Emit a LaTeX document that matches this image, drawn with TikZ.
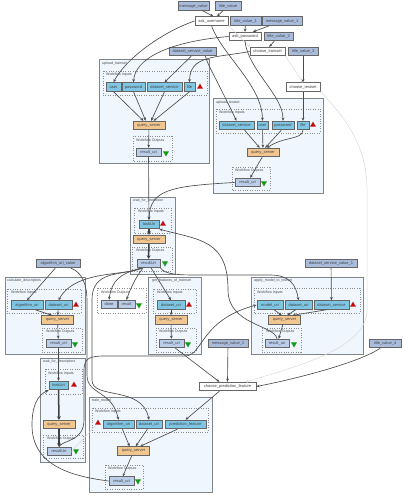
\documentclass[tikz,border=0pt]{standalone}
\usepackage{fontspec}
\setmainfont{Liberation Sans}
\usetikzlibrary{arrows.meta,shapes.geometric}
\definecolor{clusterbg}{HTML}{EFF6FE}
\definecolor{clusteredge}{HTML}{7F8589}
\definecolor{portcol}{HTML}{7FC6E4}
\definecolor{valuecol}{HTML}{A9BCDC}
\definecolor{outcol}{HTML}{BBCEE9}
\definecolor{servercol}{HTML}{F2C68F}
\tikzset{
    box/.style={draw=black!60, line width=0.9pt, inner sep=0pt, minimum height=8.5pt, font=\fontsize{4}{5}\selectfont, text=black!75},
    valuebox/.style={box, fill=valuecol},
    askbox/.style={box, fill=white},
    portbox/.style={box, fill=portcol},
    outbox/.style={box, fill=outcol},
    serverbox/.style={box, fill=servercol, minimum width=32pt},
    cluster/.style={draw=clusteredge, line width=0.9pt, fill=clusterbg},
    ports/.style={draw=black!45, line width=0.8pt, dash pattern=on 0.8pt off 1.6pt},
    title/.style={inner sep=0pt, anchor=west, text=black!70, font=\fontsize{3.6}{5}\selectfont},
    warn/.style={regular polygon, regular polygon sides=3, fill=red!85!black, draw=black!50, line width=0.2pt, inner sep=0pt, minimum size=6.5pt},
    okay/.style={regular polygon, regular polygon sides=3, shape border rotate=180, fill=green!65!black, draw=black!50, line width=0.2pt, inner sep=0pt, minimum size=6.5pt},
    link/.style={draw=black!70, line width=0.65pt, -{Stealth[length=3.2pt,width=2.8pt]}},
    fatlink/.style={draw=black!75, line width=1.5pt, -{Stealth[length=3.5pt,width=4pt]}},
    ctrl/.style={draw=black!15, line width=0.5pt},
    ctrlc/.style={ctrl, -{Circle[open,length=2.5pt,fill=white]}}
}
\begin{document}
\begin{tikzpicture}[x=1pt, y=-1pt]
    \useasboundingbox (0,0) rectangle (402,500);

    % draw clusters
    \draw[cluster] (99,59) rectangle (209,163);
    \draw[cluster] (213,98) rectangle (323,193);
    \draw[cluster] (130,197) rectangle (175,274);
    \draw[cluster] (5,277) rectangle (85,354);
    \draw[cluster] (148,277) rectangle (201,354);
    \draw[cluster] (251,277) rectangle (363,354);
    \draw[cluster] (40,358) rectangle (85,462);
    \draw[cluster] (89,397) rectangle (212,492);
    \node[title] (t_tr) at (102,63.5) {upload\_trainset};
    \node[title] (t_te) at (216,102.5) {upload\_testset};
    \node[title] (t_wp) at (133,201) {wait\_for\_prediction};
    \node[title] (t_cd) at (7,281) {calculate\_descriptors};
    \node[title] (t_gf) at (152,281) {get\_features\_of\_trainset};
    \node[title] (t_ap) at (254,281) {apply\_model\_to\_testset};
    \node[title] (t_wd) at (43,362) {wait\_for\_descriptors};
    \node[title] (t_tm) at (92,401) {train\_model};

    % draw dotted port boxes
    \draw[ports] (103,71) rectangle (207,95);
    \draw[ports] (133,136) rectangle (172,161);
    \draw[ports] (216,109) rectangle (320,133);
    \draw[ports] (232,167) rectangle (270,190);
    \draw[ports] (134,208) rectangle (171,233);
    \draw[ports] (132,247) rectangle (172,271);
    \draw[ports] (7,289) rectangle (81,313);
    \draw[ports] (42,328) rectangle (82,352);
    \draw[ports] (97,288) rectangle (146,313);
    \draw[ports] (153,289) rectangle (196,313);
    \draw[ports] (156,328) rectangle (196,352);
    \draw[ports] (254,288) rectangle (360,313);
    \draw[ports] (262,328) rectangle (301,352);
    \draw[ports] (45,369) rectangle (82,394);
    \draw[ports] (43,435) rectangle (83,458);
    \draw[ports] (92,408) rectangle (208,432);
    \draw[ports] (105,465) rectangle (143,489);
    \node[title] (l1) at (106,75) {Workflow Inputs};
    \node[title] (l2) at (136,140.5) {Workflow Outputs};
    \node[title] (l3) at (219,113) {Workflow Inputs};
    \node[title] (l4) at (235,171) {Workflow Outputs};
    \node[title] (l5) at (138,212) {Workflow Inputs};
    \node[title] (l6) at (136,251) {Workflow Outputs};
    \node[title] (l7) at (11,293) {Workflow Inputs};
    \node[title] (l8) at (46,332) {Workflow Outputs};
    \node[title] (l9) at (101,293) {Workflow Outputs};
    \node[title] (l10) at (157,293) {Workflow Inputs};
    \node[title] (l11) at (159,332) {Workflow Outputs};
    \node[title] (l12) at (257,293) {Workflow Inputs};
    \node[title] (l13) at (266,332) {Workflow Outputs};
    \node[title] (l14) at (48,374) {Workflow Inputs};
    \node[title] (l15) at (47,439) {Workflow Outputs};
    \node[title] (l16) at (95,412) {Workflow Inputs};
    \node[title] (l17) at (108,469) {Workflow Outputs};

    % draw values and prompts
    \node[valuebox, minimum width=31pt] (msgv) at (193.5,6) {message\_value};
    \node[valuebox, minimum width=26pt] (titv) at (228,6) {title\_value};
    \node[askbox, minimum width=33pt] (asku) at (211.5,21) {ask\_username};
    \node[valuebox, minimum width=31pt] (titv1) at (245.5,21) {title\_value\_1};
    \node[valuebox, minimum width=40pt] (msgv1) at (282,21) {message\_value\_1};
    \node[askbox, minimum width=32pt] (askp) at (245,36.5) {ask\_password};
    \node[valuebox, minimum width=29pt] (titv2) at (278.5,36.5) {title\_value\_2};
    \node[valuebox, minimum width=47pt] (dsv) at (192.5,51.5) {dataset\_service\_value};
    \node[askbox, minimum width=35pt] (chtr) at (267.5,51.5) {choose\_trainset};
    \node[valuebox, minimum width=30pt] (titv3) at (303,51.5) {title\_value\_3};
    \node[askbox, minimum width=34pt] (chte) at (303,87) {choose\_testset};
    \node[valuebox, minimum width=44pt] (algv) at (58,263.5) {algorithm\_uri\_value};
    \node[valuebox, minimum width=52pt] (dsv1) at (331,263.5) {dataset\_service\_value\_1};
    \node[valuebox, minimum width=40pt] (msgv2) at (228,343.5) {message\_value\_2};
    \node[valuebox, minimum width=32pt] (titv4) at (385,343.5) {title\_value\_4};
    \node[askbox, minimum width=57pt] (chpf) at (227.5,386.5) {choose\_prediction\_feature};

    % upload_trainset
    \node[portbox, minimum width=15pt] (tr_usr) at (113.5,87) {user};
    \node[portbox, minimum width=23pt] (tr_pwd) at (133.5,87) {password};
    \node[portbox, minimum width=35pt] (tr_dss) at (164.5,87) {dataset\_service};
    \node[portbox, minimum width=11pt] (tr_file) at (189.5,87) {file};
    \node[warn] (tr_w) at (200,87) {};
    \node[serverbox] (tr_qs) at (149,125.5) {query\_server};
    \node[outbox, minimum width=25pt] (tr_res) at (148.5,152.5) {result\_uri};
    \node[okay] (tr_o) at (166,153) {};

    % upload_testset
    \node[portbox, minimum width=35pt] (te_dss) at (236.5,125.5) {dataset\_service};
    \node[portbox, minimum width=11pt] (te_usr) at (262.5,125.5) {user};
    \node[portbox, minimum width=22pt] (te_pwd) at (283,125.5) {password};
    \node[portbox, minimum width=12pt] (te_file) at (303,125.5) {file};
    \node[warn] (te_w) at (313,125) {};
    \node[serverbox] (te_qs) at (263,152.5) {query\_server};
    \node[outbox, minimum width=25pt] (te_res) at (247.5,182.5) {result\_uri};
    \node[okay] (te_o) at (264,183) {};

    % wait_for_prediction
    \node[portbox, minimum width=20pt] (wp_task) at (149,224.5) {taskUri};
    \node[warn] (wp_w) at (163,224) {};
    \node[serverbox] (wp_qs) at (149,239.5) {query\_server};
    \node[outbox, minimum width=23pt] (wp_res) at (148.5,263.5) {resultUri};
    \node[okay] (wp_o) at (165,263) {};

    % calculate_descriptors
    \node[portbox, minimum width=32pt] (cd_alg) at (27,305) {algorithm\_uri};
    \node[portbox, minimum width=27pt] (cd_ds) at (58.5,305) {dataset\_uri};
    \node[warn] (cd_w) at (76,305) {};
    \node[serverbox] (cd_qs) at (57.5,320) {query\_server};
    \node[outbox, minimum width=25pt] (cd_res) at (58.5,343.5) {result\_uri};
    \node[okay] (cd_o) at (75,344) {};

    % outputs of the whole workflow
    \node[outbox, minimum width=16pt] (out_done) at (109,304.5) {done};
    \node[outbox, minimum width=17pt] (out_res) at (126.5,304.5) {result};
    \node[okay] (out_o) at (139,305) {};

    % get_features_of_trainset
    \node[portbox, minimum width=28pt] (gf_ds) at (171,305) {dataset\_uri};
    \node[warn] (gf_w) at (189,305) {};
    \node[serverbox] (gf_qs) at (171,320) {query\_server};
    \node[outbox, minimum width=25pt] (gf_res) at (171.5,343.5) {result\_uri};
    \node[okay] (gf_o) at (188,344) {};

    % apply_model_to_testset
    \node[portbox, minimum width=26pt] (ap_mod) at (270,305) {model\_uri};
    \node[portbox, minimum width=27pt] (ap_ds) at (298.5,305) {dataset\_uri};
    \node[portbox, minimum width=35pt] (ap_dss) at (331.5,305) {dataset\_service};
    \node[warn] (ap_w) at (353,305) {};
    \node[serverbox] (ap_qs) at (284.5,320) {query\_server};
    \node[outbox, minimum width=24pt] (ap_res) at (277,343.5) {result\_uri};
    \node[okay] (ap_o) at (294,344) {};

    % wait_for_descriptors
    \node[portbox, minimum width=19pt] (wd_task) at (58.5,385.5) {taskUri};
    \node[warn] (wd_w) at (74,385) {};
    \node[serverbox] (wd_qs) at (59,424.5) {query\_server};
    \node[outbox, minimum width=24pt] (wd_res) at (59,451.5) {resultUri};
    \node[okay] (wd_o) at (76,451) {};

    % train_model
    \node[warn] (tm_w) at (98,423) {};
    \node[portbox, minimum width=31pt] (tm_alg) at (118.5,424.5) {algorithm\_uri};
    \node[portbox, minimum width=26pt] (tm_ds) at (149,424.5) {dataset\_uri};
    \node[portbox, minimum width=41pt] (tm_pf) at (185.5,424.5) {prediction\_feature};
    \node[serverbox] (tm_qs) at (133.5,451) {query\_server};
    \node[outbox, minimum width=25pt] (tm_res) at (121.5,481) {result\_uri};
    \node[okay] (tm_o) at (138,481) {};

    % draw control links
    \draw[ctrlc] (asku.south east) -- (chtr.north west);
    \draw[ctrlc] (chtr.south east) -- (chte.north);
    \draw[ctrlc] (chte.south east) .. controls (350,122) and (367,150) .. (367,190) -- (367,310) .. controls (367,350) and (290,368) .. (chpf.14);
    \draw[ctrl] (wd_res.east) -- (tm_w);

    % draw links above the clusters
    \draw[link] (msgv) -- (asku.70);
    \draw[link] (titv) -- (asku.40);
    \draw[link] (titv1) -- (askp.north);
    \draw[link] (msgv1) -- (askp.30);
    \draw[link] (titv2) -- (chtr.70);
    \draw[link] (titv3) -- (chte);
    \draw[link] (asku.west) .. controls (160,33) and (125,60) .. (tr_usr.north);
    \draw[link] (asku.south) .. controls (222,55) and (262,85) .. (te_usr.north);
    \draw[link] (askp.west) .. controls (165,42) and (135,60) .. (tr_pwd.north);
    \draw[link] (askp.south) .. controls (248,70) and (283,95) .. (te_pwd.north);
    \draw[link] (dsv.-105) -- (tr_dss.north);
    \draw[link] (dsv.-20) .. controls (208,66) and (212,70) .. (te_dss.north);
    \draw[link] (chtr.west) .. controls (215,58) and (190,55) .. (tr_file.north);
    \draw[link] (chte) -- (te_file);

    % links inside upload_trainset
    \draw[link] (tr_usr.south) -- (tr_qs.140);
    \draw[link] (tr_pwd.south) -- (tr_qs.125);
    \draw[link] (tr_dss.south) -- (tr_qs.65);
    \draw[link] (tr_file.south) -- (tr_qs.45);
    \draw[link] (tr_qs) -- (tr_res);

    % links inside upload_testset
    \draw[link] (te_dss.-30) -- (te_qs.125);
    \draw[link] (te_usr) -- (te_qs);
    \draw[link] (te_pwd.-110) -- (te_qs.65);
    \draw[link] (te_file.south) .. controls (302,140) and (285,136) .. (te_qs.50);
    \draw[link] (te_qs.-100) -- (te_res);

    % links into and out of wait_for_prediction
    \draw[link] (tr_res) -- (wp_task);
    \draw[link] (te_res.west) .. controls (170,186) and (150,190) .. (wp_task.north);
    \draw[link] (ap_res.north) .. controls (275,325) and (228,325) .. (228,290) .. controls (228,240) and (200,240) .. (wp_task.south east);
    \draw[fatlink] (wp_task) -- (wp_qs);
    \draw[fatlink] (wp_qs) -- (wp_res);
    \draw[link] (wp_res.-150) .. controls (120,274) and (112,280) .. (out_done.north);
    \draw[link] (wp_res.-140) .. controls (135,278) and (130,290) .. (out_res.north);
    \draw[link] (wp_res.-60) -- (gf_ds.north);
    \draw[link] (wp_res.-145) .. controls (125,276) and (75,270) .. (cd_ds.north);
    \draw[link] (wp_res.-20) .. controls (165,275) and (180,275) .. (200,275) -- (270,275) .. controls (290,275) and (296,285) .. (ap_ds.north);
    \draw[link] (wp_res.-145) .. controls (120,276) and (92,270) .. (92,300) -- (92,380) .. controls (92,400) and (142,385) .. (tm_ds.north);

    % links of calculate_descriptors
    \draw[link] (algv.-120) -- (cd_alg.north);
    \draw[link] (algv.-20) .. controls (82,272) and (87,285) .. (87,300) -- (87,375) .. controls (87,395) and (112,390) .. (tm_alg.north);
    \draw[link] (cd_alg.-30) -- (cd_qs.140);
    \draw[link] (cd_ds) -- (cd_qs);
    \draw[link] (cd_qs) -- (cd_res);
    \draw[link] (cd_res) -- (wd_task);

    % links of get_features_of_trainset
    \draw[link] (gf_ds) -- (gf_qs);
    \draw[link] (gf_qs) -- (gf_res);
    \draw[link] (gf_res.-50) -- (chpf.150);

    % links of apply_model_to_testset
    \draw[link] (dsv1) -- (ap_dss);
    \draw[link] (ap_mod.-50) -- (ap_qs.120);
    \draw[link] (ap_ds.-120) -- (ap_qs.60);
    \draw[link] (ap_dss.-135) -- (ap_qs.30);
    \draw[link] (ap_qs.-110) -- (ap_res.70);

    % links of wait_for_descriptors and train_model
    \draw[fatlink] (wd_task) -- (wd_qs);
    \draw[fatlink] (wd_qs) -- (wd_res);
    \draw[link] (wd_res.north) .. controls (62,440) and (84,442) .. (84,420) -- (84,370) .. controls (84,358) and (90,356) .. (105,356) -- (185,356) .. controls (203,356) and (200,320) .. (ap_mod.west);
    \draw[link] (msgv2) -- (chpf.north);
    \draw[link] (titv4.-135) .. controls (360,362) and (300,378) .. (chpf.east);
    \draw[link] (chpf.-150) -- (tm_pf.north);
    \draw[link] (tm_alg.-50) -- (tm_qs.130);
    \draw[link] (tm_ds.-110) -- (tm_qs.65);
    \draw[link] (tm_pf.-150) -- (tm_qs.35);
    \draw[link] (tm_qs.-110) -- (tm_res.75);
    \draw[link] (tm_res.west) .. controls (70,476) and (32,465) .. (32,425) .. controls (32,405) and (38,395) .. (wd_task.south west);
\end{tikzpicture}
\end{document}
